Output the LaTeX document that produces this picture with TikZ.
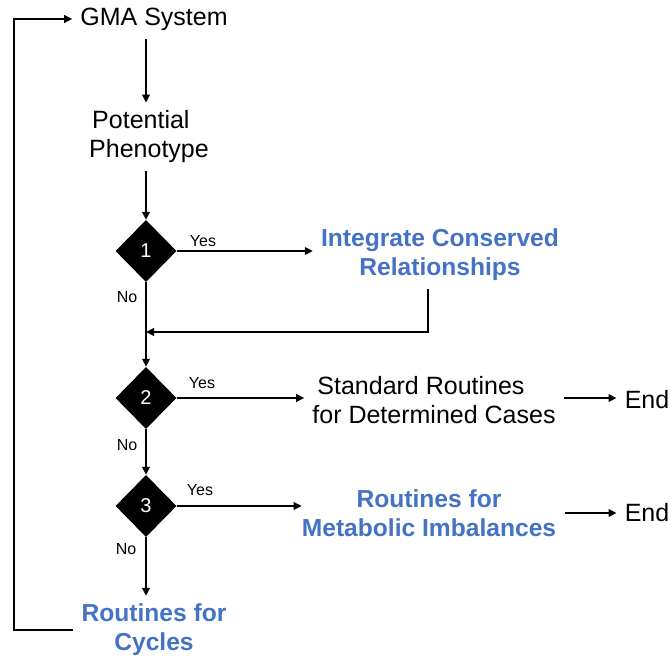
\documentclass[tikz,border=0pt]{standalone}
\usepackage{fontspec}
\setmainfont{Liberation Sans}
\usetikzlibrary{shapes.geometric,arrows.meta}
\definecolor{hlblue}{HTML}{4472C4}
\tikzset{
  txt/.style={inner sep=8pt, align=center, font=\fontsize{25}{29}\selectfont},
  bluetxt/.style={txt, text=hlblue, font=\fontsize{24.6}{29}\selectfont\bfseries},
  lbl/.style={inner sep=0pt, font=\fontsize{16}{19}\selectfont},
  dia/.style={diamond, fill=black, draw=none, minimum width=61pt, minimum height=62pt, inner sep=0pt, text=white, font=\fontsize{20}{24}\selectfont},
  conn/.style={line width=2.2pt},
  arr/.style={conn, -{Triangle[length=8pt,width=7.5pt]}}
}
\begin{document}
\begin{tikzpicture}[x=1pt,y=-1pt]
\useasboundingbox (0,0) rectangle (670,659);
\node[txt] (gma) at (154,19) {GMA System};
\node[txt, align=left] (pp) at (149,137) {\hspace{3pt}Potential\\Phenotype};
\node[dia] (d1) at (146,251) {1};
\node[bluetxt] (icr) at (440,255) {Integrate Conserved\\Relationships};
\node[dia] (d2) at (146,398) {2};
\node[txt, align=left] (sr) at (434,400) {\hspace{5pt}Standard Routines\\for Determined Cases};
\node[txt] (end1) at (647,400) {End};
\node[dia] (d3) at (146,506) {3};
\node[bluetxt, inner sep=0pt] (rmi) at (429,513) {Routines for\\Metabolic Imbalances};
\node[txt] (end2) at (647,513) {End};
\node[bluetxt] (rc) at (154,630) {Routines for\\Cycles};
\coordinate (lp) at (14,0);
\coordinate (m1) at (146,332);
\node[lbl] (y1) at (203,241) {Yes};
\node[lbl] (y2) at (202,383) {Yes};
\node[lbl] (y3) at (200,490) {Yes};
\node[lbl] (n1) at (127,297) {No};
\node[lbl] (n2) at (127,445) {No};
\node[lbl] (n3) at (126,549) {No};
\draw[arr] (gma.south -| d1.north) -- (pp.north -| d1.north);
\draw[arr] (pp.south -| d1.north) -- (d1.north);
\draw[arr] (d1.east) -- (d1.east -| icr.west);
\draw[arr] ([xshift=-12pt]icr.south) |- (m1);
\draw[arr] (d1.south) -- (d2.north);
\draw[arr] (d2.east) -- (d2.east -| sr.west);
\draw[arr] (sr.east |- d2.east) -- (end1.west |- d2.east);
\draw[arr] (d2.south) -- (d3.north);
\draw[arr] (d3.east) -- (d3.east -| rmi.west);
\draw[arr] ([xshift=9pt]rmi.east) -- (end2.west |- rmi.east);
\draw[arr] (d3.south) -- (rc.north -| d3.south);
\draw[arr] (rc.west) -- (rc.west -| lp) -- (gma.west -| lp) -- (gma.west);
\end{tikzpicture}
\end{document}
